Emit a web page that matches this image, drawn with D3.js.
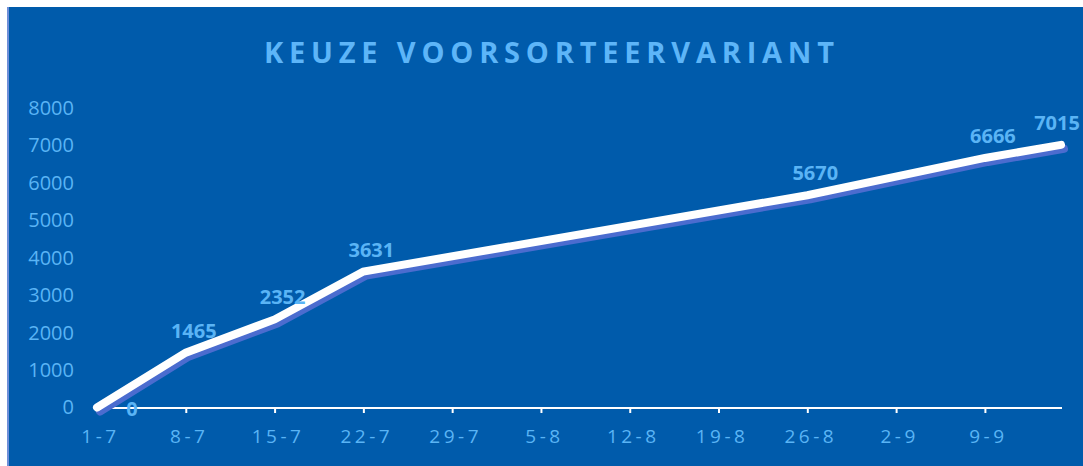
<!DOCTYPE html>
<html>
<head>
<meta charset="utf-8">
<script src="https://cdn.jsdelivr.net/npm/d3@7"></script>
<style>
  body { margin: 0; background: #fff; }
  text { font-family: "Open Sans", sans-serif; }
</style>
</head>
<body>
<script>
// data
const title = "KEUZE VOORSORTEERVARIANT";
const pointDates = ["2021-07-01", "2021-07-08", "2021-07-15", "2021-07-22", "2021-08-26", "2021-09-09", "2021-09-15"];
const pointValues = [0, 1465, 2352, 3631, 5670, 6666, 7015];
const tickDates = ["2021-07-01", "2021-07-08", "2021-07-15", "2021-07-22", "2021-07-29", "2021-08-05",
    "2021-08-12", "2021-08-19", "2021-08-26", "2021-09-02", "2021-09-09"];
const yTicks = [0, 1000, 2000, 3000, 4000, 5000, 6000, 7000, 8000];

const W = 1083, H = 466;
const bg = "#005bab", textCol = "#5ab4f5";

const points = pointDates.map((d, i) => ({date: d3.isoParse(d), value: pointValues[i]}));

const svg = d3.select("body").append("svg")
    .attr("width", W)
    .attr("height", H);

svg.append("rect")
    .attr("x", 7).attr("y", 7)
    .attr("width", W - 7).attr("height", H - 7)
    .attr("fill", bg);
svg.append("line")
    .attr("x1", 8).attr("x2", 8).attr("y1", 7).attr("y2", H)
    .attr("stroke", "#6f8fd8").attr("stroke-width", 2);

svg.append("text")
    .attr("x", 264).attr("y", 63)
    .attr("textLength", 570)
    .attr("lengthAdjust", "spacing")
    .attr("font-size", 29)
    .attr("font-weight", "bold")
    .attr("fill", "#5db5f8")
    .text(title);

const x = d3.scaleUtc()
    .domain([d3.isoParse("2021-07-01"), d3.isoParse("2021-09-15")])
    .range([97, 1061]);

const y = d3.scaleLinear()
    .domain([0, 8000])
    .range([407.5, 108]);

// y axis: labels only
const yAxis = svg.append("g")
    .attr("transform", "translate(74,0)")
    .call(d3.axisLeft(y).tickValues(yTicks).tickSize(0).tickPadding(0).tickFormat(d3.format("d")));
yAxis.select(".domain").remove();
yAxis.selectAll("text")
    .attr("font-family", "Open Sans")
    .attr("font-size", 20)
    .attr("fill", textCol);

// x axis
const xAxis = svg.append("g")
    .attr("transform", "translate(0,408)")
    .call(d3.axisBottom(x)
        .tickValues(tickDates.map(d3.isoParse))
        .tickSize(5)
        .tickSizeOuter(0)
        .tickPadding(17)
        .tickFormat(d3.utcFormat("%-d-%-m")));
xAxis.select(".domain").attr("stroke", "#fff").attr("stroke-width", 2)
    .attr("d", "M96,0H" + (x.range()[1] + 1));
xAxis.selectAll(".tick line").attr("stroke", "#fff").attr("stroke-width", 2);
xAxis.selectAll("text")
    .attr("font-family", "Open Sans")
    .attr("font-size", 19)
    .attr("letter-spacing", 3.5)
    .attr("dx", 3)
    .attr("fill", textCol);

const line = d3.line()
    .x(d => x(d.date))
    .y(d => y(d.value));

// shadow then the white line
svg.append("path")
    .datum(points)
    .attr("d", line)
    .attr("transform", "translate(3,4)")
    .attr("fill", "none")
    .attr("stroke", "#4b6ccf")
    .attr("stroke-width", 8)
    .attr("stroke-linejoin", "round")
    .attr("stroke-linecap", "round");

svg.append("path")
    .datum(points)
    .attr("d", line)
    .attr("fill", "none")
    .attr("stroke", "#fff")
    .attr("stroke-width", 8)
    .attr("stroke-linejoin", "miter")
    .attr("stroke-linecap", "round");

// value labels, above the point; the zero sits right of it; kept inside the frame
svg.append("g")
    .selectAll("text")
    .data(points)
    .join("text")
    .attr("x", d => Math.min(x(d.date) + (d.value === 0 ? 35 : 8), W - 26))
    .attr("y", d => y(d.value) + (d.value === 0 ? 8 : -15))
    .attr("text-anchor", "middle")
    .attr("font-size", 20)
    .attr("font-weight", "bold")
    .attr("fill", textCol)
    .text(d => d.value);
</script>
</body>
</html>
